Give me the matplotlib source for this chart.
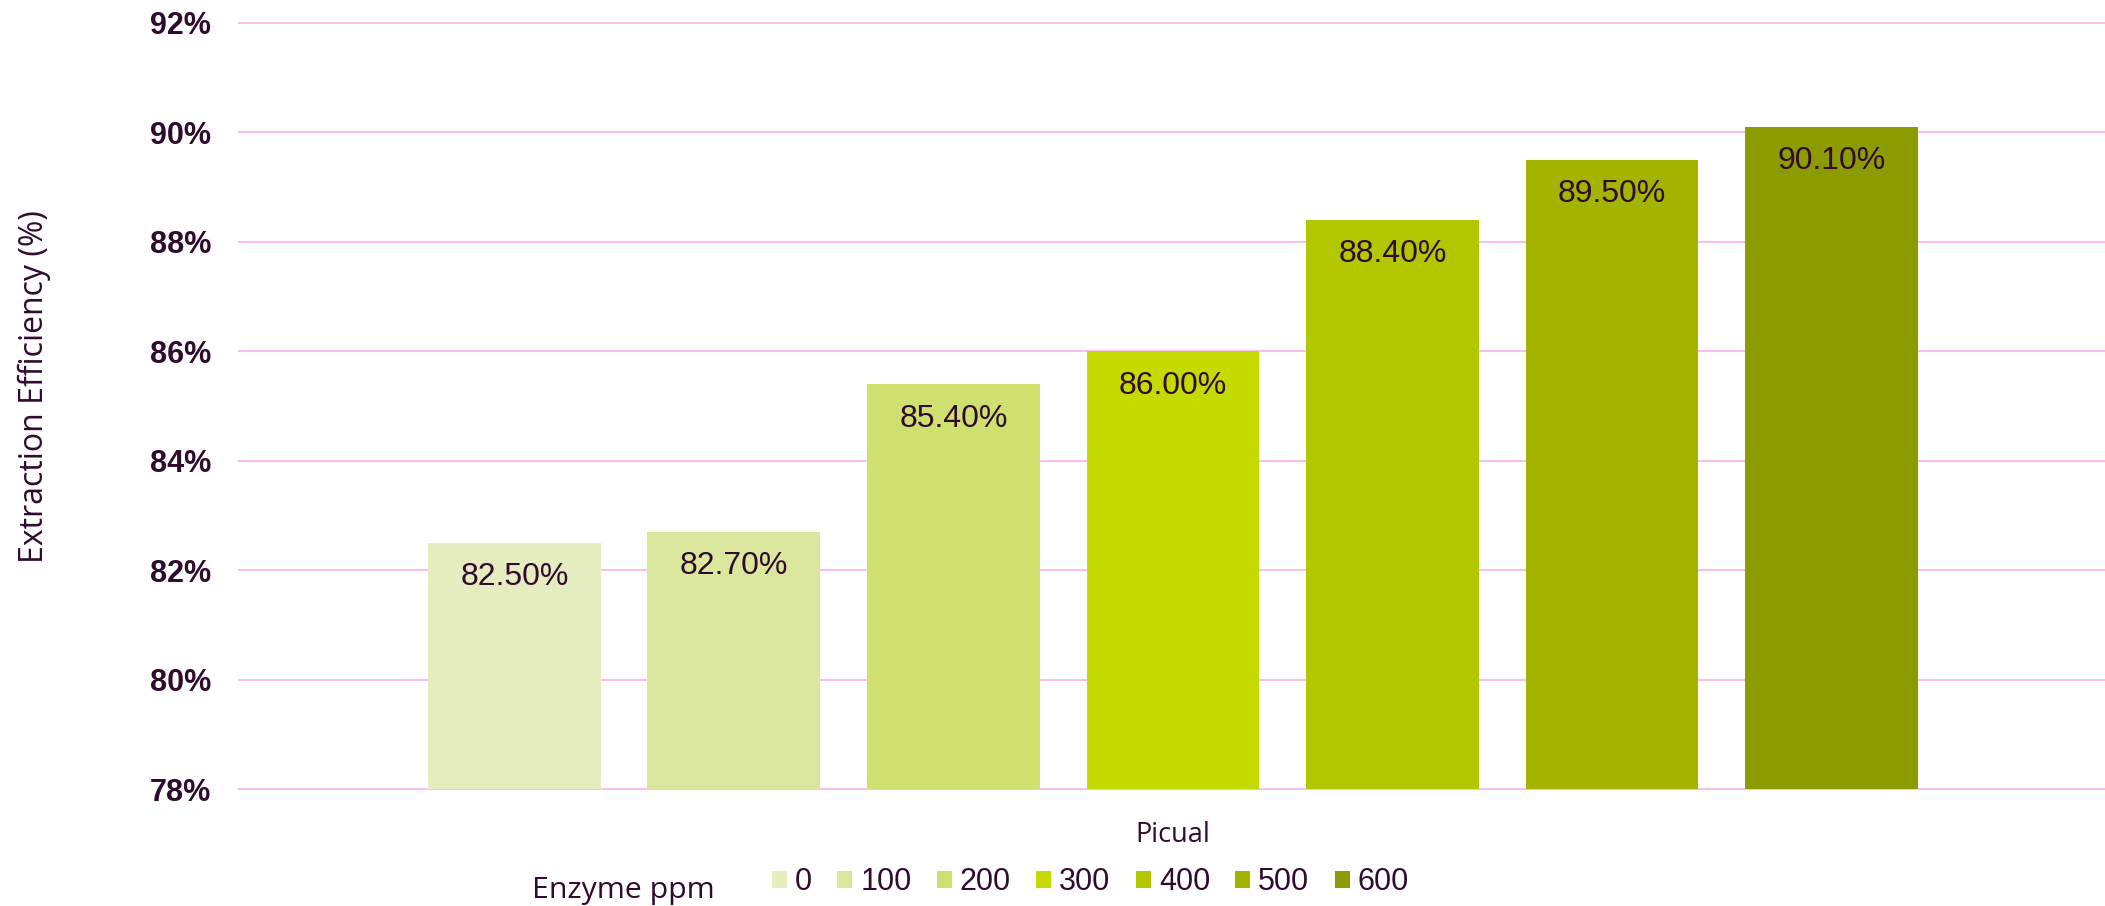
import numpy as np
import matplotlib
matplotlib.use('Agg')
import matplotlib.pyplot as plt

# 数据
doses = ['0', '100', '200', '300', '400', '500', '600']
efficiency = [82.5, 82.7, 85.4, 86.0, 88.4, 89.5, 90.1]
bar_colors = ['#E5ECBF', '#DCE79E', '#D0E070', '#C5DB00', '#B3C700', '#A3B300', '#8C9B00']
yticks = [78, 80, 82, 84, 86, 88, 90, 92]
category = 'Picual'

txt = '#2F0B2E'
grid_c = '#F9BFF1'

W, H = 2105, 906
fig = plt.figure(figsize=(W / 100, H / 100), dpi=100)
ax = fig.add_axes([239 / W, 1 - 789.3 / H, (W - 239) / W, (789.3 - 22.7) / H])

x = np.arange(len(doses))
bars = ax.bar(x, [v - 78 for v in efficiency], bottom=78, width=0.788,
              color=bar_colors, zorder=3)
for b, lab in zip(bars, doses):
    b.set_label(lab)

# 柱内数值标签
for xi, v in zip(x, efficiency):
    ax.annotate(f'{v:.2f}%', (xi, v), xytext=(0, -14), textcoords='offset points',
                ha='center', va='top', fontsize=23, color=txt,
                family='Liberation Sans', zorder=4)

ax.set_xlim(-1.255, 7.246)
ax.set_ylim(78, 92)
ax.set_yticks(yticks)
ax.set_yticklabels([f'{t}%' for t in yticks], fontsize=22, fontweight='bold',
                   color=txt, family='Liberation Sans')
ax.tick_params(axis='y', length=0, pad=20)
ax.set_xticks([])
for s in ax.spines.values():
    s.set_visible(False)
ax.grid(axis='y', color=grid_c, lw=1.5, zorder=0)
ax.set_axisbelow(True)
for gl in ax.get_ygridlines():
    gl.set_clip_on(False)

# 轴标题
fig.text(34 / W, 1 - 387 / H, 'Extraction Efficiency (%)', rotation=90,
         ha='center', va='center', fontsize=23, color=txt, family='Open Sans')
fig.text(1173 / W, 1 - 842 / H, category, ha='center', va='baseline',
         fontsize=19.5, color=txt, family='Open Sans')
fig.text(532 / W, 1 - 898 / H, 'Enzyme ppm', ha='left', va='baseline',
         fontsize=21.8, color=txt, family='Open Sans')

# 图例
leg = fig.legend(handles=list(bars), labels=doses, ncol=7, frameon=False,
                 loc='center left', bbox_to_anchor=(772 / W, 1 - 882 / H),
                 borderpad=0, borderaxespad=0, handlelength=0.49, handleheight=0.49,
                 handletextpad=0.26, columnspacing=0.83,
                 prop={'family': 'Liberation Sans', 'size': 22})
for t in leg.get_texts():
    t.set_color(txt)

fig.savefig('out.png', dpi=100)
